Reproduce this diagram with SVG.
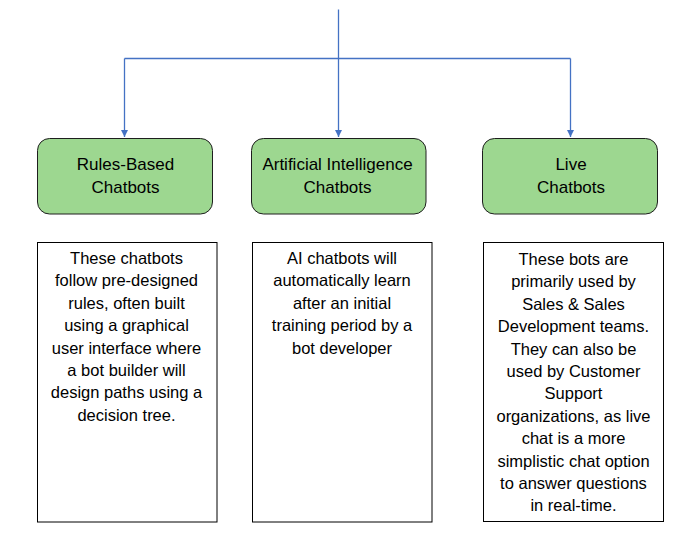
<svg xmlns="http://www.w3.org/2000/svg" width="686" height="543" viewBox="0 0 686 543">
<style>
.node{fill:#9dd790;stroke:#1e1e1e;stroke-width:1}
.box{fill:#ffffff;stroke:#000000;stroke-width:1}
.conn{fill:none;stroke:#4472c4;stroke-width:1.3}
text{font-family:"Liberation Sans",Arial,sans-serif;font-size:16.5px;fill:#000000;text-anchor:middle}
.nt{font-size:17px}
</style>
<defs>
<marker id="arr" viewBox="0 0 10 10" refX="10" refY="5" markerWidth="7" markerHeight="7" markerUnits="userSpaceOnUse" orient="auto">
<path d="M0,0 L10,5 L0,10 z" fill="#4472c4"/>
</marker>
</defs>
<rect width="686" height="543" fill="#ffffff"/>
<g id="connectors">
<path class="conn" d="M338.5,9.5 L338.5,137" marker-end="url(#arr)"/>
<path class="conn" d="M124.5,58.5 L570.5,58.5"/>
<path class="conn" d="M124.5,58.5 L124.5,137" marker-end="url(#arr)"/>
<path class="conn" d="M570.5,58.5 L570.5,137" marker-end="url(#arr)"/>
</g>
<g id="node-rules">
<rect class="node" x="37.5" y="138.5" width="175" height="75.5" rx="12"/>
<text class="nt" x="125.5" y="169.5">Rules-Based</text>
<text class="nt" x="125.5" y="192.5">Chatbots</text>
</g>
<g id="node-ai">
<rect class="node" x="251.5" y="138.5" width="174.5" height="75.5" rx="12"/>
<text class="nt" x="337.5" y="169.5">Artificial Intelligence</text>
<text class="nt" x="337.5" y="192.5">Chatbots</text>
</g>
<g id="node-live">
<rect class="node" x="482.5" y="138.5" width="175" height="75.5" rx="12"/>
<text class="nt" x="571" y="169.5">Live</text>
<text class="nt" x="571" y="192.5">Chatbots</text>
</g>
<g id="desc-rules">
<rect class="box" x="37.5" y="242.5" width="179.5" height="279.5"/>
<text x="126.5" y="264">These chatbots</text>
<text x="126.5" y="286.4">follow pre-designed</text>
<text x="126.5" y="308.8">rules, often built</text>
<text x="126.5" y="331.2">using a graphical</text>
<text x="126.5" y="353.6">user interface where</text>
<text x="126.5" y="376">a bot builder will</text>
<text x="126.5" y="398.4">design paths using a</text>
<text x="126.5" y="420.8">decision tree.</text>
</g>
<g id="desc-ai">
<rect class="box" x="252.5" y="242.5" width="179.5" height="279.5"/>
<text x="342" y="264">AI chatbots will</text>
<text x="342" y="286.4">automatically learn</text>
<text x="342" y="308.8">after an initial</text>
<text x="342" y="331.2">training period by a</text>
<text x="342" y="353.6">bot developer</text>
</g>
<g id="desc-live">
<rect class="box" x="483.5" y="242.5" width="180" height="279"/>
<text x="573.5" y="265">These bots are</text>
<text x="573.5" y="287.4">primarily used by</text>
<text x="573.5" y="309.8">Sales &amp; Sales</text>
<text x="573.5" y="332.2">Development teams.</text>
<text x="573.5" y="354.6">They can also be</text>
<text x="573.5" y="377">used by Customer</text>
<text x="573.5" y="399.4">Support</text>
<text x="573.5" y="421.8">organizations, as live</text>
<text x="573.5" y="444.2">chat is a more</text>
<text x="573.5" y="466.6">simplistic chat option</text>
<text x="573.5" y="489">to answer questions</text>
<text x="573.5" y="511.4">in real-time.</text>
</g>
</svg>
